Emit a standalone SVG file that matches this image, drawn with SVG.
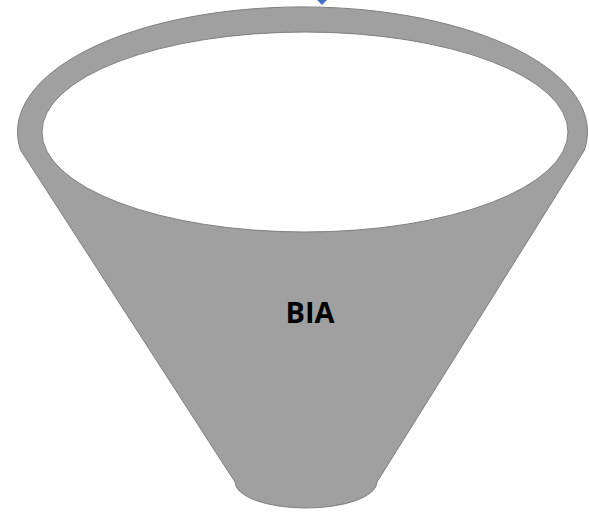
<svg xmlns="http://www.w3.org/2000/svg" width="589" height="512" viewBox="0 0 589 512">
<style>
.shape{fill:#a0a0a0;stroke:#7f7f7f;stroke-width:1}
.inner{fill:#ffffff;stroke:#7f7f7f;stroke-width:1}
.lbl{font-family:"Open Sans","Liberation Sans",Arial,sans-serif;font-weight:bold;font-size:29px;fill:#000000;text-anchor:middle}
</style>
<rect width="589" height="512" fill="#ffffff"/>
<g id="funnel">
<path class="shape" d="M20.5,150 L235,482 A71,26 0 0 0 377,482 L584.5,150 A285,125 0 1 0 20.5,150 Z"/>
<ellipse class="inner" cx="305" cy="132" rx="263" ry="100"/>
<text class="lbl" x="310" y="323">BIA</text>
</g>
<g id="handle">
<polygon points="317,0 327,0 322,5" fill="#4472c4"/>
</g>
</svg>
